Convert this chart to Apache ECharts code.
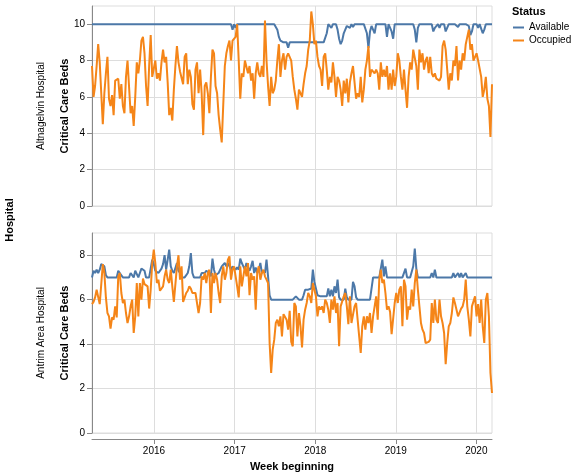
<!DOCTYPE html>
<html><head><meta charset="utf-8">
<script src="https://cdn.jsdelivr.net/npm/echarts@6/dist/echarts.min.js"></script>
<style>html,body{margin:0;padding:0;background:#fff}#c{width:577px;height:476px}</style>
</head><body><div id="c"></div>
<script>
// ---- data ----
const firstWeek = '2015-03-26';
const hospitals = ['Altnagelvin Hospital', 'Antrim Area Hospital'];
const statuses = ['Available', 'Occupied'];
const yearTicks = ['2016-01-01', '2017-01-01', '2018-01-01', '2019-01-01', '2020-01-01'];
const yTicksAltnagelvin = [0, 2, 4, 6, 8, 10];
const yTicksAntrim = [0, 2, 4, 6, 8];

const altnagelvinAvailable = [
10,10,10,10,10,10,10,10,10,10,
10,10,10,10,10,10,10,10,10,10,
10,10,10,10,10,10,10,10,10,10,
10,10,10,10,10,10,10,10,10,10,
10,10,10,10,10,10,10,10,10,10,
10,10,10,10,10,10,10,10,10,10,
10,10,10,10,10,10,10,10,10,10,
10,10,10,10,10,10,10,10,10,10,
10,10,10,10,10,10,10,10,10,10,
10,9.7,10,9.8,10,10,10,10,10,10,
10,10,10,10,10,10,10,10,10,10,
10,10,10,10,10,10,10,10,10,10,
9.7,9.3,9.1,9.0,9.0,9.0,9.0,8.7,9.0,9.0,
9,9,9,9,9,9,9,9,9,9,
9,9,9,9,9,9,9,9,9,9,
9.0,9.0,9.5,10,10,9.8,10,10,10,9.7,
9.2,8.9,9.1,9.5,9.7,9.9,10,9.8,10,9.85,
10,9.9,10,10,10,10,10,10,9.5,8.7,
9.6,9.9,9.7,9.5,10,10,10,10,10,10,
10,9.3,10,10,9.6,9.2,10,10,10,10,
10,10,10,10,10,10,10,10,10,9.7,
9.0,9.8,10,10,10,10,10,10,10,10,
10,9.6,9.8,9.85,10,9.8,10,10,10,9.6,
9.6,10,10,10,10,10,10,9.85,10,10,
10,10,10,10,9.9,9.4,9.6,10,10,10,
9.8,10,10,9.5,9.7,10,10,10,10,10
];
const altnagelvinOccupied = [
7.7,6.0,6.6,7.7,8.9,7.9,6.2,4.5,6.2,7.3,
8.2,5.9,5.5,6.1,5.0,6.9,7.0,7.0,5.9,6.7,
5.5,5.1,7.1,8.0,8.0,5.1,5.5,4.4,6.0,7.9,
7.3,8.0,9.1,9.3,8.4,6.6,5.5,7.7,9.4,7.1,
7.0,8.0,7.0,7.3,6.9,7.9,8.6,7.9,8.2,6.8,
5.0,5.4,4.7,6.4,7.7,8.8,7.9,7.4,7.3,6.7,
8.2,8.4,6.7,7.5,
7.1,5.6,5.3,7.5,7.9,6.2,7.5,6.2,3.9,6.6,
6.8,6.2,5.1,7.1,8.6,8.4,6.6,6.2,5.0,4.2,
3.5,5.6,7.7,8.4,8.8,9.1,8.0,9.1,9.2,9.3,
10.0,8.0,5.9,7.3,7.1,8.0,8.0,7.3,7.7,6.9,
7.3,5.9,7.3,7.9,7.3,7.1,7.7,7.1,10.2,8.0,
6.6,5.5,7.1,6.2,6.4,6.9,8.0,8.9,7.1,8.0,
8.4,7.5,8.2,8.4,
8.4,8.0,7.1,6.4,5.9,5.3,6.4,6.3,6.0,6.7,
7.3,7.7,8.6,9.1,10.7,10.0,8.9,9.1,8.2,7.7,
7.5,6.6,8.2,8.4,7.5,6.4,7.1,6.8,7.9,7.1,
6.0,7.1,6.9,6.4,5.5,6.9,6.2,7.0,5.7,6.8,
7.3,7.7,6.8,5.9,6.2,6.0,7.1,5.7,6.4,7.5,
8.0,8.8,7.1,7.5,7.6,7.3,7.5,7.3,6.4,7.9,
7.1,7.5,7.1,7.7,6.4,7.3,
6.4,7.5,6.6,7.1,8.4,8.0,7.1,6.4,7.5,
6.4,5.4,7.1,7.9,7.5,8.6,8.5,7.7,6.4,8.6,
7.9,8.4,7.5,8.0,8.2,7.3,8.2,7.3,7.1,7.3,
7.0,7.1,6.9,7.1,8.8,9.1,8.6,7.5,6.4,7.3,
6.9,8.0,7.7,8.8,6.9,8.0,7.5,8.4,8.0,8.9,
9.3,9.7,8.6,8.9,8.0,8.0,8.4,8.0,7.9,7.1,
6.0,6.4,7.1,5.9,5.5,3.8,6.7
];
const antrimAvailable = [
7.0,7.3,7.2,7.35,7.2,7.35,7.6,7.6,7.5,7.1,
7.0,7.0,7.0,7.0,7.0,7.0,7.0,7.3,7.3,7.1,
7.0,7.0,7.0,7.0,7.0,7.2,7.2,7.0,7.3,7.3,
7.0,7.2,7.4,7.4,7.3,7.0,7.0,7.0,7.0,7.8,
7.6,7.3,7.3,7.2,7.2,7.4,7.6,8.0,7.35,7.8,
8.25,7.5,7.3,7.2,7.2,7.65,7.3,7.2,7.0,7.0,
7.0,7.0,7.2,7.5,8.1,7.2,7.0,7.0,7.0,7.0,
7.0,7.2,7.2,7.2,7.3,7.35,7.2,7.05,7.85,7.35,
7.1,7.05,7.2,7.2,7.5,7.55,7.65,7.5,7.65,7.5,
7.35,7.5,7.5,7.35,7.45,7.35,7.85,7.65,7.5,7.35,
7.65,7.45,7.3,7.5,7.75,7.2,7.45,7.2,7.35,7.65,
7.2,7.3,7.2,7.8,7.05,6.2,6.0,6.0,6.0,6.0,
6,6,6,6,6,6,6,6,6,6,
6.0,6.0,6.15,6.1,6.0,6.0,6.0,6.2,6.45,6.4,
6.45,6.45,6.5,7.35,6.8,6.5,6.2,6.15,6.15,6.1,
6.15,6.1,6.15,6.5,6.15,6.45,6.15,6.6,6.3,6.9,
6.1,6.0,6.0,6.0,6.5,6.1,6.0,6.0,6.0,6.8,
6.6,6.1,6.0,6.0,6.0,6.0,6.0,6.0,6.0,6.0,
6.0,6.0,7.0,7.0,7.0,7.0,7.0,7.0,7.8,7.05,
7.5,7.0,7.0,7.0,7.0,7.0,7.0,7.0,7.0,7.0,
7.0,7.0,7.0,7.4,7.0,7.0,7.0,7.0,7.5,8.3,
7.4,7.0,7.0,7.0,7.0,7.0,7.0,7.0,7.0,7.0,
7.2,7.0,7.35,7.0,7.0,7.0,7.0,7.0,7.0,7.0,
7.0,7.0,7.0,7.0,7.2,7.0,7.0,7.2,7.0,7.2,
7.0,7.0,7.2,7.0,7.0,7.0,7.0,7.0,7.0,7.0,
7,7,7,7,7,7,7,7,7,7
];
const antrimOccupied = [
5.8,5.9,6.1,6.45,6.45,5.8,5.8,7.6,7.2,6.1,
5.4,5.25,4.7,5.2,5.1,5.7,5.2,7.05,7.2,6.3,
5.85,6.0,5.4,4.95,5.25,5.7,6.0,4.5,5.25,6.75,
5.25,6.75,6.0,6.95,6.7,6.75,6.6,5.6,6.45,7.65,
8.25,7.65,6.75,6.9,6.4,6.45,6.6,7.05,7.35,6.9,
6.75,7.35,6.6,5.9,5.85,7.5,8.0,6.9,7.5,5.9,
5.85,6.3,6.4,6.6,6.5,
6.3,6.3,6.3,6.3,5.4,5.85,7.05,6.9,7.2,
6.75,7.2,7.35,5.4,7.2,6.75,7.2,6.9,6.3,5.85,
7.05,7.5,6.9,7.2,7.8,7.95,6.9,7.35,7.5,7.05,
6.6,6.1,7.5,6.6,7.05,7.5,7.05,7.65,6.2,7.2,
6.9,7.05,5.55,7.25,7.5,6.9,7.2,7.35,7.05,6.9,
6.75,4.05,2.7,3.75,4.2,4.95,5.1,4.8,5.25,4.35,
5.35,5.35,5.1,4.65,5.5,4.1,
3.9,5.85,5.7,4.35,5.4,4.8,3.85,5.1,5.55,
5.85,6.3,6.15,5.85,6.75,6.45,6.15,5.25,5.7,
5.55,5.7,5.4,6.0,5.85,5.55,4.95,6.0,5.55,6.15,
5.4,5.85,3.9,5.7,5.7,6.15,6.3,5.7,4.9,6.15,
4.95,4.9,5.7,5.85,5.1,4.35,3.6,4.8,5.25,4.65,
5.25,4.95,5.4,4.5,5.25,5.7,6.15,5.1,6.9,7.35,
6.75,6.9,6.3,5.55,5.7,5.45,
4.45,4.45,5.85,6.3,5.85,6.45,6.6,4.8,6.9,
6.6,5.1,5.7,5.55,6.45,5.7,6.75,7.35,6.45,5.7,
4.95,4.65,4.5,4.05,4.1,4.1,4.2,5.85,4.95,6.0,
5.1,4.95,6.0,5.25,4.95,4.5,3.1,4.05,4.8,4.95,
5.4,6.1,5.85,5.85,5.25,5.25,5.6,5.7,6.0,6.9,
5.7,5.1,4.35,5.7,5.7,6.15,5.25,5.8,4.95,6.0,
4.8,4.05,6.0,6.3,5.25,2.7,1.8
];

// ---- build ----
const DAY = 86400000;
const t0 = Date.parse(firstWeek + 'T00:00:00Z');
const nWeeks = altnagelvinAvailable.length;
const weeks = Array.from({length: nWeeks}, (_, i) => t0 + i * 7 * DAY);
const pair = arr => arr.map((v, i) => [weeks[i], v]);
const yearVals = yearTicks.map(s => Date.parse(s + 'T00:00:00Z'));
const FONT = 'Liberation Sans, Arial, sans-serif';
const BLUE = '#4c78a8', ORANGE = '#f58518';

function xAxis(gi, bottom) {
  return {
    type: 'value', gridIndex: gi, min: weeks[0], max: weeks[nWeeks - 1],
    offset: bottom ? 6 : 0,
    axisLine: {show: bottom, onZero: false, lineStyle: {color: '#888', width: 1}},
    axisTick: {show: bottom, length: 5, lineStyle: {color: '#888'}, customValues: yearVals},
    axisLabel: {show: bottom, customValues: yearVals, margin: 7, color: '#000', fontSize: 10, fontFamily: FONT,
      formatter: v => String(new Date(v).getUTCFullYear())},
    splitLine: {show: true, lineStyle: {color: '#ddd', width: 1}},
    name: bottom ? 'Week beginning' : '', nameLocation: 'middle', nameGap: 22,
    nameTextStyle: {fontWeight: 'bold', fontSize: 11, color: '#000', fontFamily: FONT}
  };
}
function yAxis(gi, max, ticks) {
  return {
    type: 'value', gridIndex: gi, min: 0, max: max,
    axisLine: {show: true, lineStyle: {color: '#888', width: 1}},
    axisTick: {show: true, length: 5, lineStyle: {color: '#888'}, customValues: ticks},
    axisLabel: {customValues: ticks, margin: 7, color: '#000', fontSize: 10, fontFamily: FONT},
    splitLine: {show: true, lineStyle: {color: '#ddd', width: 1}},
    name: 'Critical Care Beds', nameLocation: 'middle', nameGap: 22, nameMoveOverlap: false,
    nameTextStyle: {fontWeight: 'bold', fontSize: 11, color: '#000', fontFamily: FONT}
  };
}
function line(name, gi, arr, color) {
  return {
    type: 'line', name: name, xAxisIndex: gi, yAxisIndex: gi, data: pair(arr),
    showSymbol: false, symbol: 'none', lineStyle: {color: color, width: 2}, itemStyle: {color: color},
    emphasis: {disabled: true}
  };
}

const chart = echarts.init(document.getElementById('c'), null, {renderer: 'canvas'});
chart.setOption({
  animation: false,
  backgroundColor: '#fff',
  grid: [
    {left: 92, top: 6, width: 400, height: 200, show: true, borderColor: '#ddd', borderWidth: 1},
    {left: 92, top: 233, width: 400, height: 200, show: true, borderColor: '#ddd', borderWidth: 1}
  ],
  xAxis: [xAxis(0, false), xAxis(1, true)],
  yAxis: [yAxis(0, 11, yTicksAltnagelvin), yAxis(1, 9, yTicksAntrim)],
  legend: {
    orient: 'vertical', left: 513, top: 21, padding: 0, itemGap: 0, itemWidth: 11, itemHeight: 2,
    icon: 'rect', data: statuses,
    textStyle: {fontSize: 10, color: '#000', fontFamily: FONT, lineHeight: 13}
  },
  graphic: [
    {type: 'text', left: 512, top: 6, style: {text: 'Status', font: 'bold 11px ' + FONT, fill: '#000'}},
    {type: 'text', x: 41, y: 106, rotation: Math.PI / 2,
      style: {text: hospitals[0], font: '10px ' + FONT, fill: '#000', align: 'center', verticalAlign: 'middle'}},
    {type: 'text', x: 41, y: 333, rotation: Math.PI / 2,
      style: {text: hospitals[1], font: '10px ' + FONT, fill: '#000', align: 'center', verticalAlign: 'middle'}},
    {type: 'text', x: 10, y: 220, rotation: Math.PI / 2,
      style: {text: 'Hospital', font: 'bold 11px ' + FONT, fill: '#000', align: 'center', verticalAlign: 'middle'}}
  ],
  series: [
    line(statuses[0], 0, altnagelvinAvailable, BLUE),
    line(statuses[1], 0, altnagelvinOccupied, ORANGE),
    line(statuses[0], 1, antrimAvailable, BLUE),
    line(statuses[1], 1, antrimOccupied, ORANGE)
  ]
});
</script></body></html>
